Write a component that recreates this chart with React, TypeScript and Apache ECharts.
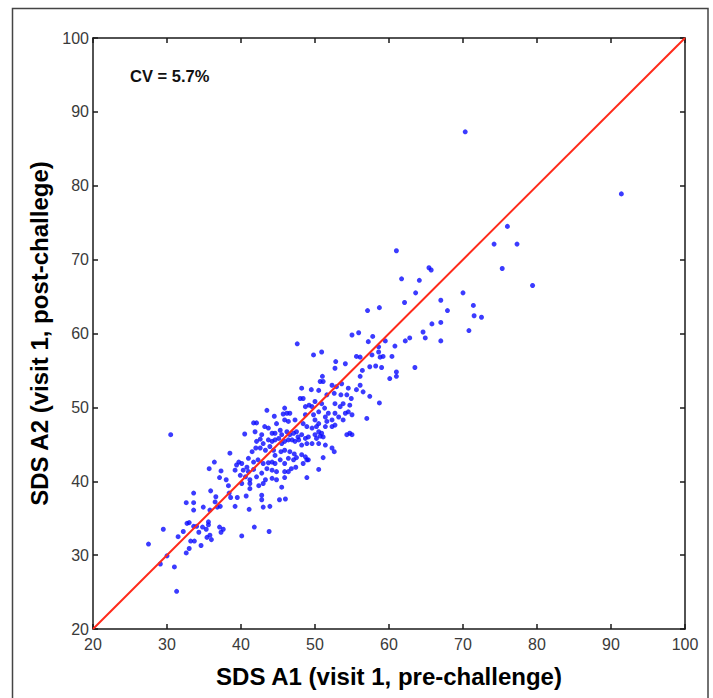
import React, { useEffect, useRef } from "react";
import * as echarts from "echarts";

// Axis ticks (both axes)
const tickMin = 20;
const tickMax = 100;
const tickStep = 10;

const xName = "SDS A1 (visit 1, pre-challenge)";
const yName = "SDS A2 (visit 1, post-challege)";
const cvLabel = "CV = 5.7%";

// Identity line end points
const identityLine: [number, number][] = [
  [20, 20],
  [100, 100],
];

// Scatter points [A1, A2]
const lowPoints: [number, number][] = [
  [30.5, 46.3], [27.5, 31.5], [29.5, 33.5], [29.1, 28.8], [30.0, 29.9], [31.0, 28.4], [31.3, 25.1],
  [31.5, 32.5], [32.2, 33.2], [32.6, 30.3], [33.0, 30.9], [33.2, 31.9], [33.7, 31.9], [32.7, 34.3],
  [33.0, 34.4], [33.6, 33.9], [34.0, 33.9], [34.6, 31.3], [34.3, 33.1], [34.8, 33.8], [35.3, 33.5],
  [35.4, 32.4], [35.6, 34.5], [35.6, 34.1], [36.0, 32.1], [35.8, 32.7], [37.1, 33.8], [37.3, 33.1],
  [37.6, 33.5], [40.1, 32.6], [41.8, 33.8], [43.8, 33.2], [32.6, 37.1], [33.6, 37.1], [33.6, 36.1],
  [33.6, 38.4], [34.9, 36.5], [35.9, 38.7], [35.8, 36.1], [36.5, 37.2], [36.6, 37.9], [36.8, 36.5],
  [37.2, 36.6], [37.1, 40.5], [37.3, 41.4], [35.7, 41.7], [36.4, 42.6], [38.0, 40.2], [38.3, 39.4],
  [38.4, 38.4], [38.6, 37.8], [39.2, 36.6], [39.5, 37.8], [38.5, 43.8], [40.7, 38.0], [41.1, 36.2],
  [42.8, 38.1], [42.8, 37.5], [43.0, 36.5], [43.9, 36.6], [45.2, 37.5], [46.0, 37.6],
];

const densePoints: [number, number][] = [
  [50.7, 53.5], [51.1, 53.5], [52.3, 53.0], [53.6, 53.2], [52.9, 52.8], [54.5, 52.6], [48.2, 52.6],
  [49.5, 52.4], [50.5, 52.3], [51.6, 51.7], [52.6, 51.9], [53.5, 51.7], [54.3, 51.7], [54.9, 51.2],
  [48.0, 51.2], [48.4, 51.2], [50.0, 50.8], [49.2, 50.3], [49.6, 50.1], [48.7, 50.1], [50.9, 50.5],
  [51.3, 49.9], [52.7, 50.5], [53.4, 50.1], [53.8, 50.5], [54.7, 50.3], [54.5, 49.4], [43.5, 49.6],
  [45.9, 49.9], [46.2, 49.2], [45.7, 49.1], [46.6, 49.2], [44.5, 48.8], [48.7, 49.0], [49.8, 49.0],
  [50.5, 49.4], [51.4, 48.7], [50.0, 48.3], [50.5, 47.8], [51.8, 49.2], [52.7, 49.2], [53.2, 48.7],
  [53.8, 48.3], [54.1, 49.2], [55.0, 49.0], [51.6, 48.1], [52.3, 48.3], [41.7, 47.9], [42.1, 47.9],
  [43.2, 47.4], [43.7, 47.2], [44.8, 47.8], [45.9, 48.3], [46.4, 48.1], [47.3, 48.3], [48.4, 47.8],
  [48.9, 47.4], [49.6, 47.2], [50.2, 47.4], [51.4, 47.4], [50.5, 46.7], [50.9, 46.5], [52.3, 47.4],
  [52.7, 47.6], [40.5, 46.4], [41.9, 46.7], [42.8, 46.3], [44.2, 46.5], [44.6, 46.5], [45.3, 46.9],
  [45.5, 46.3], [46.2, 46.7], [46.6, 46.3], [47.1, 46.5], [47.5, 46.7], [47.7, 46.0], [48.2, 46.3],
  [48.7, 45.8], [49.1, 46.0], [50.0, 46.3], [50.2, 45.8], [50.7, 46.1], [51.1, 46.0], [54.7, 46.5],
  [54.3, 46.3], [55.0, 46.3], [42.1, 45.4], [42.6, 45.7], [43.0, 45.1], [43.7, 45.6], [44.2, 45.4],
  [44.6, 45.6], [45.1, 45.8], [45.5, 45.1], [45.9, 45.4], [46.4, 45.6], [46.9, 45.6], [47.3, 45.4],
  [47.8, 45.6], [48.2, 44.9], [48.9, 45.1], [49.6, 45.1], [50.5, 45.1], [51.4, 44.9], [39.7, 42.6],
  [41.0, 43.1], [41.5, 44.0], [42.0, 44.5], [42.6, 44.5], [43.3, 44.2], [43.9, 44.7], [44.4, 44.2],
  [44.6, 43.5], [45.4, 44.0], [45.9, 44.2], [46.6, 44.0], [47.2, 43.7], [47.5, 43.2], [47.1, 42.9],
  [46.4, 43.1], [48.2, 43.6], [48.7, 43.3], [48.9, 42.9], [51.1, 43.2], [52.3, 44.5], [52.6, 44.0],
  [39.4, 42.2], [40.1, 42.4], [40.8, 41.9], [41.7, 42.6], [42.3, 42.9], [43.0, 42.4], [43.7, 42.5],
  [44.2, 42.6], [44.6, 42.4], [45.3, 42.9], [45.9, 42.4], [46.8, 41.7], [47.4, 41.9], [49.1, 42.9],
  [48.4, 42.4], [50.5, 41.6], [39.2, 41.5], [40.3, 41.5], [41.0, 41.3], [41.7, 41.6], [39.9, 40.8],
  [40.6, 40.6], [41.2, 40.2], [42.1, 40.6], [42.8, 41.1], [43.5, 41.7], [44.2, 41.5], [44.8, 41.3],
  [43.3, 40.2], [44.2, 40.4], [44.8, 40.2], [45.9, 41.3], [46.4, 41.3], [45.9, 40.5], [48.9, 40.5],
  [40.1, 39.7], [41.2, 39.7], [42.4, 39.4], [45.5, 39.2], [41.2, 39.0], [43.0, 39.7],
];

const midPoints: [number, number][] = [
  [52.8, 56.2], [54.1, 55.9], [52.7, 55.3], [51.0, 54.2], [56.4, 55.0], [56.1, 54.2], [57.4, 55.5],
  [58.2, 55.6], [59.0, 55.4], [61.0, 54.8], [60.1, 53.9], [61.0, 54.2], [56.1, 53.0], [56.5, 52.1],
  [55.6, 52.4], [57.4, 51.5], [58.7, 50.6], [57.0, 48.5],
];

const upperPoints: [number, number][] = [
  [63.6, 65.5], [58.7, 63.5], [57.1, 63.1], [62.1, 64.2], [67.0, 64.5], [70.0, 65.5], [67.9, 63.1],
  [65.8, 61.3], [67.0, 61.5], [70.8, 60.4], [64.6, 60.2], [64.9, 59.4], [67.0, 59.0], [62.8, 59.4],
  [62.2, 59.0], [60.8, 58.3], [59.5, 59.0], [58.6, 58.2], [57.8, 59.6], [57.2, 58.9], [55.9, 60.1],
  [55.0, 59.8], [47.6, 58.6], [49.8, 57.1], [50.9, 57.5], [55.6, 56.9], [56.1, 56.8], [57.7, 57.1],
  [58.6, 57.5], [58.8, 56.8], [59.2, 56.9], [60.4, 56.9], [63.5, 55.4], [61.0, 71.2], [61.7, 67.4],
  [64.1, 67.2], [65.4, 68.9], [65.7, 68.6],
];

const highPoints: [number, number][] = [
  [70.3, 87.3], [91.4, 78.9], [76.0, 74.5], [74.2, 72.1], [77.3, 72.1], [75.3, 68.8], [79.4, 66.5],
  [71.4, 63.8], [71.5, 62.4], [72.5, 62.2],
];

const GRID = { left: 93, top: 38, width: 592, height: 591 };
const AXIS_COLOR = "#1a1a1a";
const LABEL_COLOR = "#3a3a3a";
const FONT = "'Liberation Sans', Arial, Helvetica, sans-serif";

function makeAxis(position: string, showLabel: boolean, name?: string, nameGap?: number) {
  return {
    type: "value",
    min: tickMin,
    max: tickMax,
    interval: tickStep,
    position,
    gridIndex: 0,
    axisLine: { show: true, onZero: false, lineStyle: { color: AXIS_COLOR, width: 1.5 } },
    axisTick: { show: true, inside: true, length: 5, lineStyle: { color: AXIS_COLOR, width: 1.5 } },
    axisLabel: {
      show: showLabel,
      fontSize: 16,
      color: LABEL_COLOR,
      fontFamily: FONT,
      margin: position === "bottom" ? 7 : 4,
    },
    splitLine: { show: false },
    name: name || "",
    nameLocation: "middle",
    nameGap: nameGap || 0,
    nameTextStyle: {
      fontSize: 24,
      fontWeight: "bold",
      color: "#000",
      fontFamily: FONT,
    },
  };
}

export default function App() {
  const ref = useRef<HTMLDivElement>(null);
  useEffect(() => {
    if (!ref.current) return;
    const chart = echarts.init(ref.current, null, { renderer: "svg" });
    const points = [...lowPoints, ...densePoints, ...midPoints, ...upperPoints, ...highPoints];
    chart.setOption({
      animation: false,
      backgroundColor: "#fff",
      grid: { ...GRID, containLabel: false },
      xAxis: [makeAxis("bottom", true, xName, 35), makeAxis("top", false)],
      yAxis: [makeAxis("left", true, yName, 41), makeAxis("right", false)],
      graphic: [
        {
          type: "rect",
          shape: { x: 12.5, y: 8.5, width: 695.5, height: 700 },
          style: { fill: "none", stroke: "#444", lineWidth: 1.5 },
          silent: true,
          z: 0,
        },
        {
          type: "text",
          left: 130,
          top: 67,
          style: {
            text: cvLabel,
            fontSize: 16.5,
            fontWeight: "bold",
            fill: "#111",
            fontFamily: FONT,
          },
        },
      ],
      series: [
        {
          type: "scatter",
          xAxisIndex: 0,
          yAxisIndex: 0,
          data: points,
          symbol: "circle",
          symbolSize: 5,
          itemStyle: { color: "#0a0aff" },
          silent: true,
        },
        {
          type: "line",
          xAxisIndex: 0,
          yAxisIndex: 0,
          data: identityLine,
          symbol: "none",
          lineStyle: { color: "#ff2a1a", width: 2 },
          silent: true,
        },
      ],
    });
    return () => chart.dispose();
  }, []);
  return (
    <div
      ref={ref}
      style={{ position: "fixed", left: 0, top: 0, width: 713, height: 698, background: "#fff" }}
    />
  );
}
